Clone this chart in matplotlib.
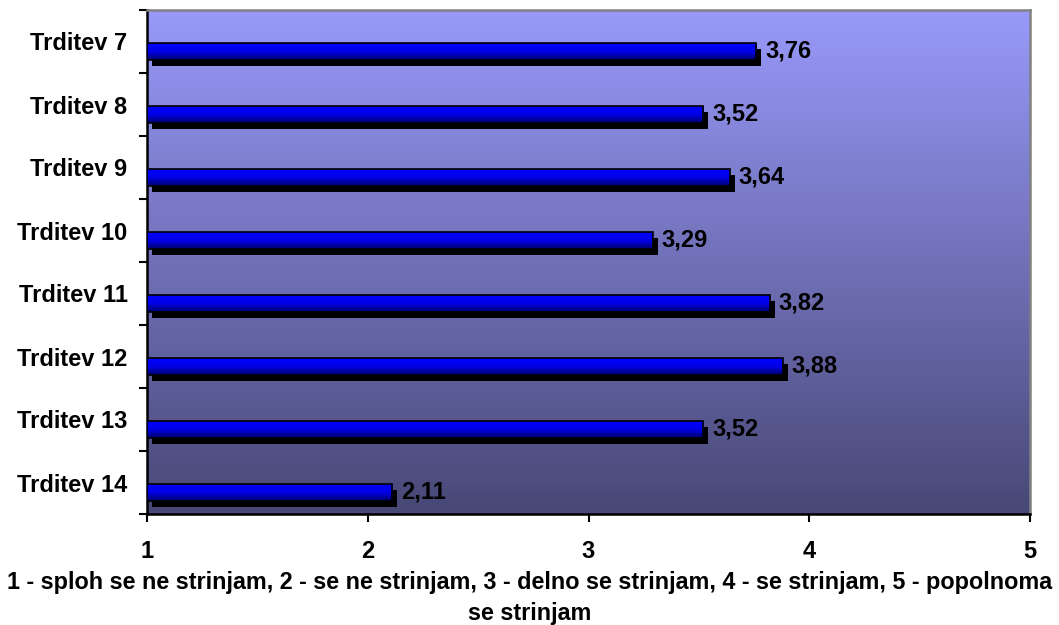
import numpy as np
import matplotlib
matplotlib.use("Agg")
import matplotlib.pyplot as plt
from matplotlib.colors import LinearSegmentedColormap
from matplotlib.transforms import offset_copy

# podatki
trditve = ["Trditev 7", "Trditev 8", "Trditev 9", "Trditev 10",
           "Trditev 11", "Trditev 12", "Trditev 13", "Trditev 14"]
povprecja = [3.76, 3.52, 3.64, 3.29, 3.82, 3.88, 3.52, 2.11]
x_ticks = [1, 2, 3, 4, 5]
x_naslov = ("1 - sploh se ne strinjam, 2 - se ne strinjam, 3 - delno se strinjam, "
            "4 - se strinjam, 5 - popolnoma\nse strinjam")

plt.rcParams["font.family"] = ["Liberation Sans", "DejaVu Sans"]
plt.rcParams["font.weight"] = "bold"
FS = 17

fig = plt.figure(figsize=(10.59, 6.25), dpi=100)
ax = fig.add_axes([147 / 1059, 1 - 514 / 625, (1030 - 147) / 1059, (514 - 10) / 625])

# ozadje: gradient od svetlo vijolicne do temno modre
bg = LinearSegmentedColormap.from_list("bg", [(153/255, 153/255, 250/255), (72/255, 72/255, 118/255)])
ax.imshow(np.linspace(0, 1, 256).reshape(-1, 1), cmap=bg, aspect="auto",
          extent=[0, 1, 0, 1], transform=ax.transAxes, zorder=0)

bar_cm = LinearSegmentedColormap.from_list("bar", [(0, 0, 1.0), (0, 0, 0.9), (0, 0, 0.42)])
y = np.arange(len(trditve))
yc = y + 0.155
h = 0.265
base = x_ticks[0]

# senca (crn pravokotnik zamaknjen desno/dol)
shadow_tr = offset_copy(ax.transData, fig=fig, x=5, y=-6, units="dots")
ax.barh(yc, np.array(povprecja) - base, left=base, height=h, color="black",
        transform=shadow_tr, zorder=2)

bars = ax.barh(yc, np.array(povprecja) - base, left=base, height=h,
               facecolor="none", edgecolor="black", linewidth=1.2, zorder=4)
grad = np.linspace(0, 1, 64).reshape(-1, 1)
for b in bars:
    x0, y0 = b.get_x(), b.get_y()
    im = ax.imshow(grad, cmap=bar_cm, aspect="auto",
                   extent=[x0, x0 + b.get_width(), y0 + b.get_height(), y0], zorder=3)
    im.set_clip_path(b)

for yi, v in zip(yc, povprecja):
    ax.annotate(("%.2f" % v).replace(".", ","), xy=(v, yi), xytext=(9, 0),
                textcoords="offset pixels", ha="left", va="center",
                fontsize=FS, fontweight="bold", color="black", zorder=5)

ax.set_xlim(1, 5)
ax.set_ylim(len(trditve) - 0.5, -0.5)
ax.set_xticks(x_ticks)
ax.set_xticklabels([str(t) for t in x_ticks], fontsize=FS, fontweight="bold")
ax.set_yticks(y)
ax.set_yticklabels(trditve, fontsize=FS, fontweight="bold")
ax.set_yticks(np.arange(-0.5, len(trditve)), minor=True)
ax.tick_params(axis="y", which="major", length=0, pad=14)
ax.tick_params(axis="y", which="minor", length=6, width=1.5, direction="out")
ax.tick_params(axis="x", which="major", length=6, width=1.5, direction="out", pad=13)

for s in ["left", "bottom"]:
    ax.spines[s].set_color("black")
    ax.spines[s].set_linewidth(1.8)
for s in ["top", "right"]:
    ax.spines[s].set_color("#808080")
    ax.spines[s].set_linewidth(1.8)

fig.text(0.5, 1 - 598 / 625, x_naslov, ha="center", va="center", fontsize=16.8,
         fontweight="bold", linespacing=1.45)

fig.savefig("out.png", dpi=100)
